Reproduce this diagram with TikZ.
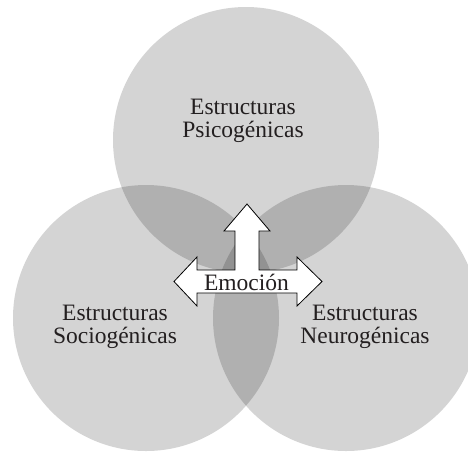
\documentclass[tikz,border=0pt]{standalone}
\usepackage{fontspec}
\setmainfont{Liberation Serif}
\usepackage{tikz}
\usetikzlibrary{positioning, calc}
\definecolor{venntinta}{RGB}{35, 31, 32}
\tikzset{
  conjunto/.style={
    circle,
    draw=none,
    fill=black,
    fill opacity=0.17,
    minimum size=266pt,
    inner sep=0pt
  },
  etiqueta/.style={
    align=center,
    inner sep=0pt,
    text=venntinta,
    font=\fontsize{23.5}{23.5}\selectfont
  },
  flecha/.style={
    draw=black,
    fill=white,
    line width=0.8pt,
    line join=miter
  }
}

\begin{document}
\begin{tikzpicture}[x=1pt, y=-1pt]
  \clip (0,0) rectangle (468,451);
  \node[conjunto] (psico) at (246,140) {};
  \node[conjunto] (socio) at (146,318) {};
  \node[conjunto] (neuro) at (346,318) {};

  \node[etiqueta] (tpsico) at (243,121) {Estructuras\\Psicogénicas};
  \node[etiqueta] (tsocio) at (115,327) {Estructuras\\Sociogénicas};
  \node[etiqueta] (tneuro) at (365,327) {Estructuras\\Neurogénicas};

  \coordinate (emo) at (247,281.5);
  \draw[flecha, shift={(emo)}] (0,-77.5) -- (23,-50.5) -- (12,-50.5) -- (12,-11.5)
    -- (50,-11.5) -- (50,-24.5) -- (75,0) -- (50,24.5) -- (50,11.5)
    -- (-50,11.5) -- (-50,24.5) -- (-73,0) -- (-50,-24.5) -- (-50,-11.5)
    -- (-12,-11.5) -- (-12,-50.5) -- (-23,-50.5) -- cycle;
  \node[etiqueta, anchor=base] (temo) at (246.5,290) {Emoción};
\end{tikzpicture}
\end{document}
